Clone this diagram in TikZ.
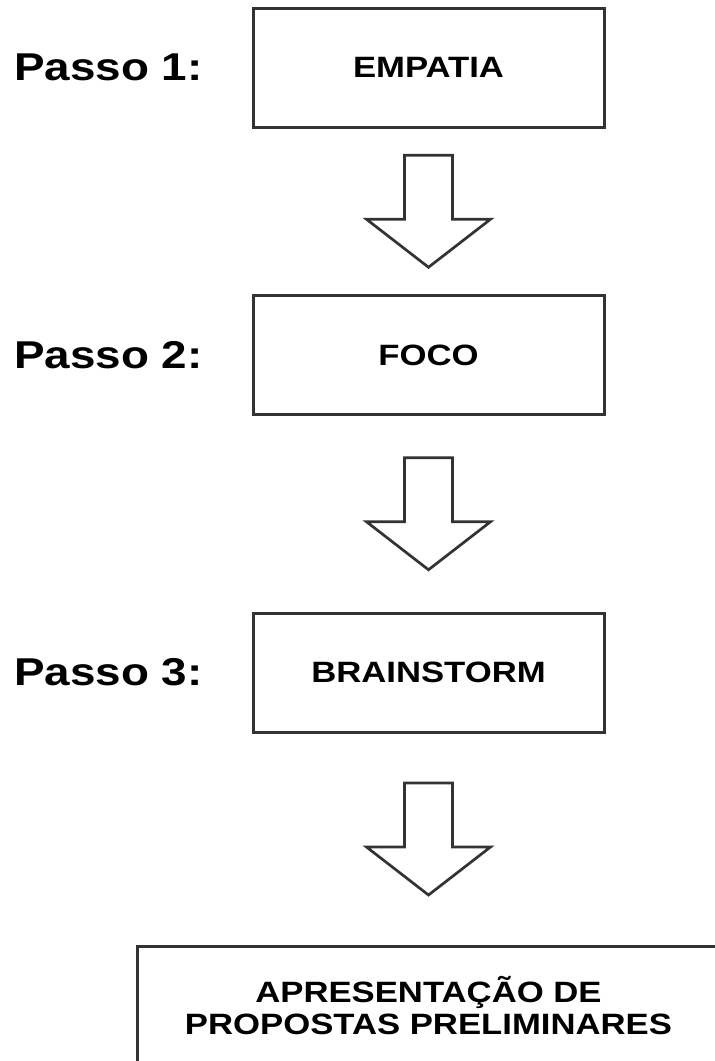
\documentclass[tikz,border=0pt]{standalone}
\usepackage{fontspec}
\usetikzlibrary{calc}
\newfontfamily\lbl{Liberation Sans}[FakeStretch=1.18]
\definecolor{edge}{HTML}{333333}
\tikzset{
  box/.style={draw=edge, line width=3pt, minimum width=351pt, minimum height=119pt,
    inner sep=0pt, align=center, font=\lbl\bfseries\fontsize{29.4}{32}\selectfont},
  steplabel/.style={anchor=west, inner sep=0pt, font=\lbl\bfseries\fontsize{38.8}{42}\selectfont},
  blockarrow/.style={draw=edge, line width=2.7pt, fill=white, line join=miter},
  downarrow/.pic={\draw[blockarrow] (-24,-56) -- (24,-56) -- (24,8) -- (62,8) -- (0,56) -- (-62,8) -- (-24,8) -- cycle;}
}
\begin{document}
\begin{tikzpicture}[x=1pt,y=-1pt]
\useasboundingbox (0,0) rectangle (715,1061);
\node[box] (b1) at (428.5,67.5) {EMPATIA};
\node[box] (b2) at (428.5,355) {FOCO};
\node[box] (b3) at (428.5,672.5) {BRAINSTORM};
\node[box, minimum width=583pt, minimum height=120pt] (b4) at (428.5,1006) {APRESENTAÇÃO DE\\PROPOSTAS PRELIMINARES};
\node[steplabel] (p1) at (14,67.5) {Passo 1:};
\node[steplabel] (p2) at (14,355) {Passo 2:};
\node[steplabel] (p3) at (14,672.5) {Passo 3:};
\coordinate (a1) at ($(b1.south)!0.5!(b2.north)$);
\coordinate (a2) at ($(b2.south)!0.5!(b3.north)$);
\coordinate (a3) at ($(b3.south)!0.5!(b4.north)$);
\path (a1) pic {downarrow};
\path (a2) pic {downarrow};
\path (a3) pic {downarrow};
\end{tikzpicture}
\end{document}
